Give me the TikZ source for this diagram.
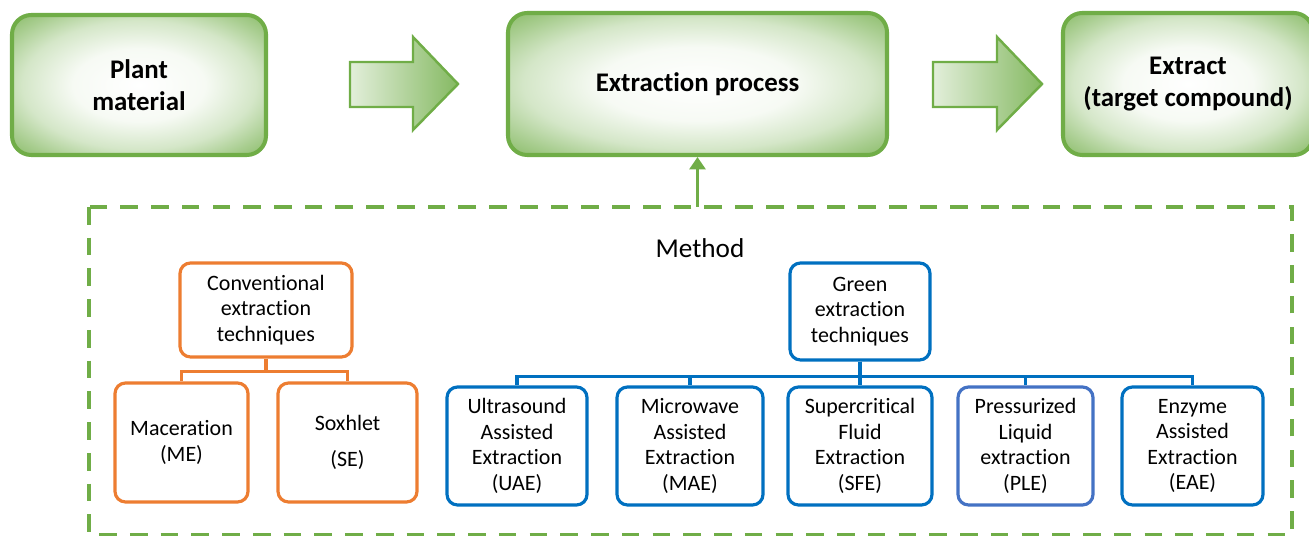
\documentclass[tikz,border=0pt]{standalone}
\usepackage{fontspec}
\setmainfont{Carlito}[Ligatures=NoCommon]
\usetikzlibrary{arrows.meta}
\definecolor{grn}{HTML}{70AD47}
\definecolor{orng}{HTML}{ED7D31}
\definecolor{blu}{HTML}{0070C0}
\definecolor{blutwo}{HTML}{4472C4}
\def\pxl{0.02cm}
\pgfdeclareradialshading{boxglow}{\pgfpoint{0bp}{0bp}}{color(0bp)=(white); color(13bp)=(grn!6); color(23bp)=(grn!30); color(30bp)=(grn!60); color(35bp)=(grn!80); color(50bp)=(grn!85)}
\tikzset{
  topbox/.style={draw=grn, line width=2.3pt, rounded corners=11pt, shading=boxglow, align=center, font=\fontsize{15.3}{18}\selectfont\bfseries},
  blockarrow/.style={draw=grn, line width=1.4pt, shading=axis, shading angle=60, left color=grn!20, right color=grn!85},
  subbox/.style={draw, line width=1.8pt, rounded corners=6pt, fill=white, align=center, font=\fontsize{12.5}{14.5}\selectfont},
  convbox/.style={subbox, draw=orng},
  grnbox/.style={subbox, draw=blu},
  orline/.style={orng, line width=1.8pt},
  bluline/.style={blu, line width=1.8pt}
}
\begin{document}
\begin{tikzpicture}[x=0.02cm,y=-0.02cm]
\useasboundingbox (0,0) rectangle (1309,536);
\node[topbox, minimum width=254*\pxl, minimum height=140*\pxl] (plant) at (139,85) {Plant\\material};
\node[topbox, minimum width=379*\pxl, minimum height=142*\pxl] (proc) at (697.5,84) {Extraction process};
\node[topbox, minimum width=250*\pxl, minimum height=142*\pxl] (extr) at (1188,84) {Extract\\(target compound)};
\draw[blockarrow] (350,62) -- (413,62) -- (413,37) -- (458,84) -- (413,130) -- (413,107) -- (350,107) -- cycle;
\draw[blockarrow] (933,62) -- (997,62) -- (997,37) -- (1042,84) -- (997,130) -- (997,107) -- (933,107) -- cycle;
\draw[grn, line width=2.3pt, dash pattern=on 10pt off 7.5pt] (89,207) rectangle (1292,535);
\coordinate (mtop) at (697.5,207);
\draw[grn, line width=2.2pt, -{Triangle[width=9pt,length=7pt]}] (mtop) -- (proc.south);
\node[font=\fontsize{15.5}{18}\selectfont] (meth) at (700,248) {Method};
\node[convbox, minimum width=172*\pxl, minimum height=94*\pxl] (conv) at (266,310) {Conventional\\extraction\\techniques};
\node[convbox, minimum width=133*\pxl, minimum height=119*\pxl] (mac) at (181.5,442.5) {Maceration\\(ME)};
\node[convbox, minimum width=139*\pxl, minimum height=119*\pxl] (sox) at (347.5,442.5) {Soxhlet\\[6pt](SE)};
\node[grnbox, minimum width=140*\pxl, minimum height=97*\pxl] (green) at (860,311.5) {Green\\extraction\\techniques};
\node[grnbox, minimum width=140*\pxl, minimum height=118*\pxl] (uae) at (517,446) {Ultrasound\\Assisted\\Extraction\\(UAE)};
\node[grnbox, minimum width=146*\pxl, minimum height=118*\pxl] (mae) at (690,446) {Microwave\\Assisted\\Extraction\\(MAE)};
\node[grnbox, minimum width=144*\pxl, minimum height=118*\pxl] (sfe) at (860,446) {Supercritical\\Fluid\\Extraction\\(SFE)};
\node[grnbox, draw=blutwo, minimum width=135*\pxl, minimum height=118*\pxl] (ple) at (1025.5,446) {Pressurized\\Liquid\\extraction\\(PLE)};
\node[grnbox, minimum width=141*\pxl, minimum height=118*\pxl] (eae) at (1192.5,446) {Enzyme\\Assisted\\Extraction\\(EAE)};
\foreach \c in {mac,sox}
  \draw[orline] (conv.south) -- ++(0,13) -| (\c.north);
\foreach \c in {uae,mae,sfe,ple,eae}
  \draw[bluline] (green.south) -- ++(0,15) -| (\c.north);
\end{tikzpicture}
\end{document}
